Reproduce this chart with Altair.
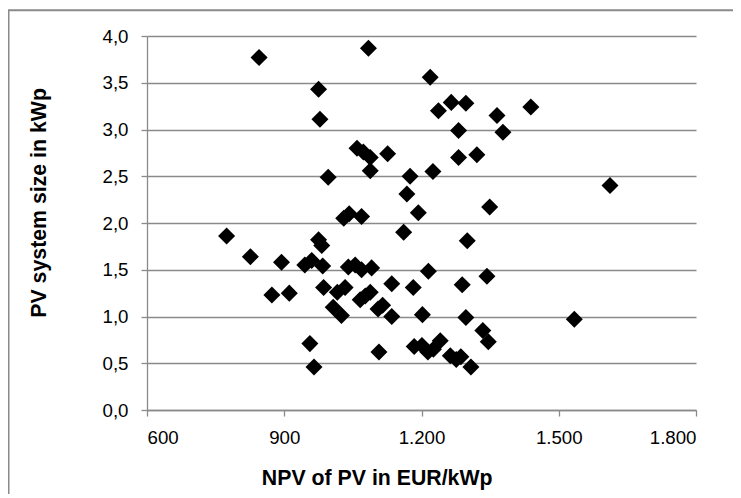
import altair as alt
import pandas as pd

# NPV of PV (EUR/kWp) and PV system size (kWp)
npv = [845, 1084, 1219, 975, 978, 1265, 1297, 1237, 1439, 1365,
       1281, 1378, 1281, 1321, 1059, 1073, 1088, 1126, 1088, 996,
       1175, 1225, 1168, 1193, 1612, 1349, 1030, 1042, 1069, 1161,
       774, 975, 982, 1300, 826, 894, 945, 960, 984, 1040,
       1055, 1069, 1091, 1215, 1343, 1135, 1182, 1289, 873, 911,
       986, 1016, 1033, 1066, 1077, 1088, 1007, 1025, 1105, 1115,
       1135, 1202, 1297, 1534, 1334, 1346, 956, 965, 1107, 1184,
       1201, 1214, 1226, 1241, 1263, 1276, 1286, 1308]
size = [3.77, 3.87, 3.56, 3.43, 3.11, 3.29, 3.28, 3.20, 3.24, 3.15,
        2.99, 2.97, 2.70, 2.73, 2.80, 2.76, 2.70, 2.74, 2.56, 2.49,
        2.50, 2.55, 2.31, 2.11, 2.40, 2.17, 2.05, 2.10, 2.07, 1.90,
        1.86, 1.82, 1.76, 1.81, 1.64, 1.58, 1.55, 1.60, 1.54, 1.53,
        1.55, 1.50, 1.52, 1.485, 1.43, 1.35, 1.31, 1.34, 1.23, 1.25,
        1.31, 1.26, 1.31, 1.18, 1.22, 1.26, 1.10, 1.01, 1.08, 1.12,
        1.00, 1.02, 0.99, 0.97, 0.85, 0.73, 0.71, 0.46, 0.62, 0.68,
        0.69, 0.62, 0.65, 0.74, 0.58, 0.54, 0.57, 0.46]

x_ticks = [600, 900, 1200, 1500, 1800]
y_ticks = [0.0, 0.5, 1.0, 1.5, 2.0, 2.5, 3.0, 3.5, 4.0]

x_title = "NPV of PV in EUR/kWp"
y_title = "PV system size in kWp"

df = pd.DataFrame({"npv": npv, "size": size})

FONT = "Liberation Sans"
GRAY = "#8a8a8a"
W, H = 549, 374
PAD = {"left": 139, "top": 28, "right": 37, "bottom": 84}

points = alt.Chart(df).mark_point(
    shape="diamond", filled=True, color="black", size=290, opacity=1, strokeWidth=0
).encode(
    x=alt.X("npv:Q",
            scale=alt.Scale(domain=[600, 1800], nice=False, zero=False),
            axis=alt.Axis(values=x_ticks, title=x_title, grid=False,
                          labelExpr="replace(format(datum.value, ','), ',', '.')",
                          tickSize=6, labelPadding=12,
                          titleX=229.7, titleY=74, titleAlign="center",
                          titleBaseline="alphabetic")),
    y=alt.Y("size:Q",
            scale=alt.Scale(domain=[0, 4], nice=False),
            axis=alt.Axis(values=y_ticks, title=y_title, grid=True,
                          labelExpr="replace(format(datum.value, '.1f'), '.', ',')",
                          tickSize=6, labelPadding=13,
                          titleX=-101.5, titleY=166.4, titleAngle=270,
                          titleAlign="center", titleBaseline="alphabetic")),
)

frame = pd.DataFrame({"k": [0]})
border_top = alt.Chart(frame).mark_rule(color=GRAY, strokeWidth=2).encode(
    x=alt.value(-PAD["left"]), x2=alt.value(W + PAD["right"]), y=alt.value(-25.7)
)
border_left = alt.Chart(frame).mark_rule(color=GRAY, strokeWidth=2).encode(
    x=alt.value(-PAD["left"] + 0.5), y=alt.value(-26), y2=alt.value(H + PAD["bottom"])
)

chart = alt.layer(points, border_top, border_left).properties(
    width=W, height=H,
    autosize=alt.AutoSizeParams(type="none"),
    padding=PAD,
    background="white",
).configure_view(strokeWidth=0).configure_axis(
    labelFont=FONT, labelFontSize=18.7, labelColor="#000000",
    titleFont=FONT, titleFontSize=21.3, titleFontWeight="bold", titleColor="#000000",
    domainColor=GRAY, tickColor=GRAY, gridColor=GRAY,
    domainWidth=1.3, tickWidth=1.3, gridWidth=1.3, gridOpacity=1,
)

chart.save("out.html", embed_options={"renderer": "svg", "actions": False})
